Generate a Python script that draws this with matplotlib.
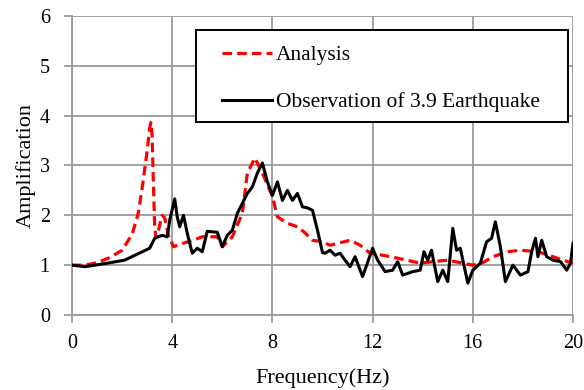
import numpy as np
import matplotlib
matplotlib.use("Agg")
import matplotlib.pyplot as plt
from matplotlib.patches import Rectangle

plt.rcParams['font.family'] = ['Liberation Serif', 'DejaVu Serif']

# analysis (red dashed)
ana_f = [0, 0.5, 1.0, 1.5, 2.0, 2.4, 2.65, 2.83, 3.0, 3.1, 3.15, 3.2, 3.23, 3.3, 3.35,
         3.45, 3.6, 3.7, 3.85, 4.05, 4.5, 4.85, 5.2, 5.8, 6.0, 6.4, 6.8, 7.0, 7.3, 7.6,
         8.0, 8.2, 8.6, 9.0, 9.3, 9.6, 10.0, 10.3, 10.7, 11.1, 11.5, 11.9, 12.4, 13.0,
         13.9, 14.4, 15.0, 15.5, 16.0, 16.4, 16.8, 17.4, 17.9, 18.6, 19.2, 19.6, 20.0]
ana_a = [1.0, 1.0, 1.05, 1.15, 1.3, 1.62, 2.05, 2.65, 3.3, 3.75, 3.86, 3.6, 2.97, 1.77, 1.55,
         1.7, 2.0, 1.95, 1.6, 1.37, 1.45, 1.5, 1.57, 1.57, 1.37, 1.57, 2.04, 2.85, 3.15, 2.85,
         2.38, 1.97, 1.84, 1.77, 1.65, 1.5, 1.47, 1.4, 1.45, 1.5, 1.4, 1.24, 1.2, 1.14,
         1.04, 1.07, 1.1, 1.05, 1.0, 1.05, 1.17, 1.27, 1.3, 1.27, 1.17, 1.1, 1.04]

# observation of 3.9 earthquake (black)
obs_f = [0, 0.52, 1.3, 2.1, 2.6, 3.1, 3.3, 3.6, 3.8, 3.9, 4.1, 4.2, 4.3, 4.45, 4.6, 4.8,
         5.0, 5.2, 5.4, 5.8, 6.0, 6.2, 6.4, 6.6, 6.8, 7.0, 7.2, 7.4, 7.6, 7.8, 8.0, 8.2,
         8.4, 8.6, 8.8, 9.0, 9.2, 9.4, 9.6, 9.8, 10.0, 10.1, 10.3, 10.5, 10.7, 10.9, 11.1,
         11.3, 11.6, 12.0, 12.2, 12.5, 12.8, 13.0, 13.2, 13.6, 13.9, 14.05, 14.2, 14.35,
         14.6, 14.8, 15.0, 15.2, 15.35, 15.5, 15.8, 16.0, 16.3, 16.55, 16.75, 16.9, 17.1,
         17.3, 17.6, 17.9, 18.2, 18.35, 18.5, 18.6, 18.75, 18.95, 19.2, 19.5, 19.75, 19.9, 20.0]
obs_a = [1.0, 0.97, 1.03, 1.1, 1.22, 1.34, 1.54, 1.6, 1.57, 1.9, 2.33, 1.97, 1.77, 2.0, 1.64, 1.24,
         1.34, 1.27, 1.68, 1.66, 1.37, 1.6, 1.7, 2.04, 2.24, 2.44, 2.57, 2.85, 3.05, 2.67, 2.4, 2.67,
         2.3, 2.5, 2.3, 2.44, 2.17, 2.15, 2.1, 1.7, 1.25, 1.24, 1.3, 1.2, 1.24, 1.1, 0.97,
         1.17, 0.77, 1.34, 1.1, 0.87, 0.9, 1.07, 0.8, 0.87, 0.9, 1.27, 1.1, 1.3,
         0.67, 0.9, 0.67, 1.74, 1.3, 1.34, 0.64, 0.9, 1.04, 1.47, 1.54, 1.87, 1.37,
         0.67, 1.0, 0.8, 0.87, 1.27, 1.54, 1.17, 1.5, 1.17, 1.1, 1.07, 0.9, 1.04, 1.44]

fig = plt.figure(figsize=(5.84, 3.90), dpi=100)
ax = fig.add_axes([0.1233, 0.1923, 0.8579, 0.7667])

ax.plot(ana_f, ana_a, color='red', lw=2.3, ls=(0, (3.0, 1.6)), label='Analysis', zorder=3)
ax.plot(obs_f, obs_a, color='black', lw=2.2, label='Observation of 3.9 Earthquake', zorder=4)

ax.set_xlim(0, 20)
ax.set_ylim(0, 6)
ax.set_xticks(np.arange(0, 21, 4))
ax.set_yticks(np.arange(0, 7, 1))
ax.grid(True, color='#9a9a9a', lw=1.3)
ax.set_axisbelow(True)
for s in ['top', 'right']:
    ax.spines[s].set_visible(False)
for s in ['left', 'bottom']:
    ax.spines[s].set_color('#9a9a9a')
    ax.spines[s].set_linewidth(1.3)
ax.tick_params(colors='#9a9a9a', labelcolor='black', length=6, width=1.3, labelsize=14.5)
ax.tick_params(axis='x', pad=8)
ax.tick_params(axis='y', pad=10)

ax.set_xlabel('Frequency(Hz)', fontsize=16)
ax.set_ylabel('Amplification', fontsize=16)
ax.xaxis.set_label_coords(0.5, -0.178)
ax.yaxis.set_label_coords(-0.072, 0.5)

# legend without frame + a plain black box drawn around it
leg = ax.legend(loc='upper left', bbox_to_anchor=(0.2994, 0.902), fontsize=15.5,
                frameon=False, labelspacing=1.24, borderpad=0, borderaxespad=0,
                handlelength=2.3, handletextpad=0.2)
ax.add_patch(Rectangle((0.2475, 0.6455), 0.7425, 0.3077, transform=ax.transAxes,
                       fill=True, facecolor='white', edgecolor='black', lw=1.4, zorder=5))
leg.set_zorder(6)

fig.savefig('out.png', dpi=100)
